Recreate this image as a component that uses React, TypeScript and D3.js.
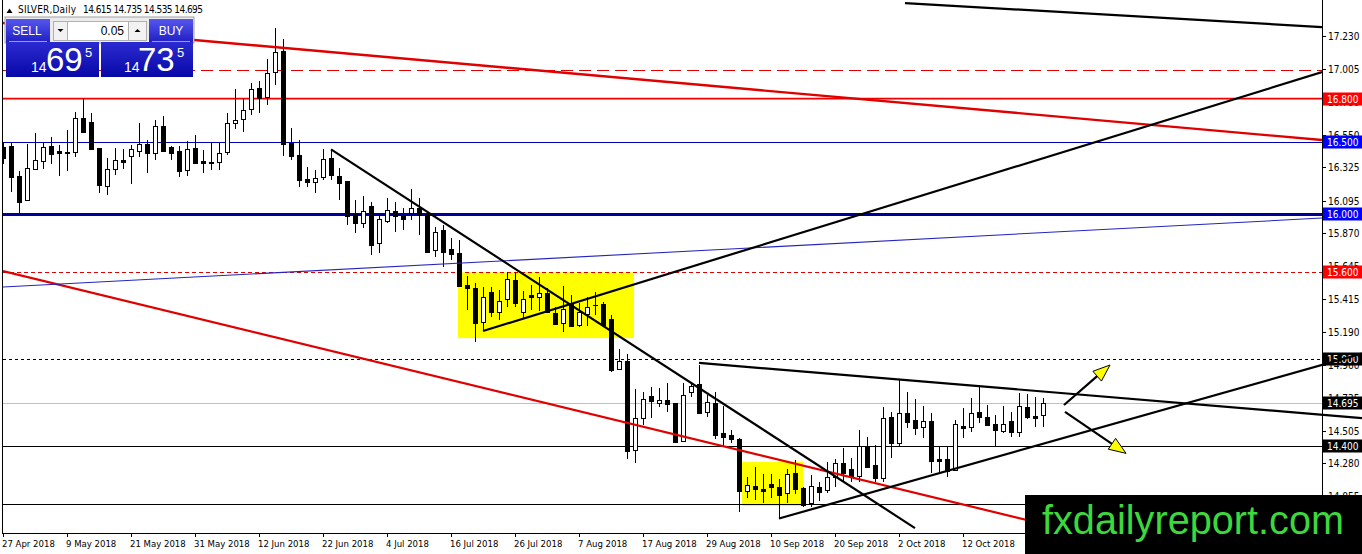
import React from 'react';
import * as d3 from 'd3';

// chart size, same as the screenshot
const W = 1362;
const H = 554;
const plotRight = 1322;
const plotBottom = 533;

// daily OHLC, bar 0 = 27 Apr 2018
const openP = [
  16.465, 16.472, 16.265, 16.1, 16.314, 16.371, 16.472, 16.437, 16.422, 16.433,
  16.664, 16.636, 16.456, 16.198, 16.314, 16.376, 16.406, 16.44, 16.485, 16.426,
  16.61, 16.463, 16.437, 16.31, 16.456, 16.367, 16.36, 16.36, 16.433, 16.629,
  16.656, 16.725, 16.871, 16.809, 16.981, 17.128, 16.495, 16.41, 16.243, 16.226,
  16.257, 16.39, 16.265, 16.231, 16.003, 15.943, 16.058, 15.8, 15.957, 16.026,
  15.989, 16.012, 16.042, 16.003, 15.754, 15.892, 15.761, 15.731, 15.512, 15.49,
  15.259, 15.462, 15.328, 15.416, 15.547, 15.328, 15.443, 15.432, 15.455, 15.317,
  15.248, 15.386, 15.236, 15.31, 15.376, 15.379, 15.278, 14.93, 14.99, 14.373,
  14.592, 14.746, 14.696, 14.718, 14.696, 14.435, 14.772, 14.829, 14.638, 14.696,
  14.488, 14.477, 14.449, 14.092, 14.124, 14.101, 14.138, 14.119, 14.074, 14.212,
  14.108, 14.009, 14.115, 14.097, 14.184, 14.28, 14.239, 14.193, 14.396, 14.27,
  14.178, 14.603, 14.424, 14.626, 14.58, 14.53, 14.573, 14.311, 14.311, 14.235,
  14.539, 14.534, 14.638, 14.603, 14.552, 14.506, 14.573, 14.5, 14.672, 14.608,
  14.615,
];
const highP = [
  16.5, 16.491, 16.3, 16.486, 16.56, 16.502, 16.537, 16.479, 16.583, 16.71,
  16.8, 16.698, 16.456, 16.387, 16.456, 16.449, 16.48, 16.629, 16.514, 16.652,
  16.68, 16.47, 16.472, 16.51, 16.55, 16.445, 16.502, 16.49, 16.698, 16.864,
  16.8, 16.91, 16.92, 17.071, 17.285, 17.215, 16.594, 16.514, 16.33, 16.307,
  16.449, 16.449, 16.318, 16.231, 16.1, 16.127, 16.088, 15.996, 16.111, 16.088,
  16.042, 16.173, 16.111, 16.019, 15.911, 15.927, 15.84, 15.823, 15.575, 15.528,
  15.5, 15.5, 15.478, 15.604, 15.604, 15.471, 15.512, 15.57, 15.49, 15.363,
  15.508, 15.443, 15.386, 15.432, 15.466, 15.397, 15.305, 15.068, 15.036, 14.792,
  14.776, 14.806, 14.799, 14.833, 14.7, 14.833, 14.845, 14.96, 14.753, 14.776,
  14.677, 14.511, 14.454, 14.189, 14.258, 14.207, 14.207, 14.171, 14.239, 14.304,
  14.12, 14.2, 14.154, 14.292, 14.308, 14.384, 14.315, 14.511, 14.466, 14.407,
  14.672, 14.638, 14.856, 14.776, 14.724, 14.677, 14.626, 14.392, 14.392, 14.58,
  14.661, 14.73, 14.806, 14.684, 14.615, 14.677, 14.638, 14.764, 14.76, 14.738,
  14.735,
];
const lowP = [
  16.35, 16.157, 16.008, 16.095, 16.307, 16.314, 16.348, 16.267, 16.302, 16.4,
  16.571, 16.445, 16.15, 16.134, 16.272, 16.314, 16.21, 16.399, 16.288, 16.376,
  16.437, 16.376, 16.26, 16.265, 16.353, 16.288, 16.307, 16.307, 16.41, 16.59,
  16.571, 16.69, 16.7, 16.756, 16.894, 16.406, 16.376, 16.191, 16.19, 16.15,
  16.24, 16.235, 16.1, 15.927, 15.87, 15.904, 15.72, 15.735, 15.94, 15.88,
  15.89, 15.96, 15.857, 15.731, 15.708, 15.639, 15.685, 15.5, 15.34, 15.121,
  15.195, 15.294, 15.271, 15.363, 15.363, 15.287, 15.34, 15.333, 15.317, 15.236,
  15.19, 15.232, 15.225, 15.232, 15.305, 15.232, 14.91, 14.93, 14.309, 14.281,
  14.546, 14.592, 14.668, 14.638, 14.42, 14.426, 14.741, 14.622, 14.599, 14.447,
  14.392, 14.423, 13.947, 14.04, 14.028, 14.005, 14.04, 13.9, 14.005, 14.069,
  13.98, 13.982, 14.023, 14.078, 14.12, 14.162, 14.154, 14.154, 14.258, 14.154,
  14.154, 14.315, 14.396, 14.523, 14.477, 14.454, 14.212, 14.212, 14.184, 14.235,
  14.454, 14.5, 14.562, 14.539, 14.392, 14.492, 14.461, 14.461, 14.585, 14.534,
  14.535,
];
const closeP = [
  16.39, 16.26, 16.088, 16.32, 16.376, 16.463, 16.417, 16.426, 16.43, 16.664,
  16.571, 16.45, 16.203, 16.314, 16.373, 16.364, 16.449, 16.486, 16.422, 16.61,
  16.44, 16.426, 16.302, 16.449, 16.357, 16.355, 16.353, 16.427, 16.629, 16.652,
  16.72, 16.864, 16.807, 16.974, 17.124, 16.487, 16.406, 16.238, 16.226, 16.249,
  16.383, 16.271, 16.219, 15.989, 15.939, 16.026, 15.789, 15.968, 16.03, 15.989,
  15.966, 16.046, 15.996, 15.742, 15.88, 15.742, 15.727, 15.505, 15.49, 15.252,
  15.432, 15.328, 15.404, 15.554, 15.386, 15.416, 15.432, 15.455, 15.328, 15.243,
  15.347, 15.232, 15.324, 15.363, 15.372, 15.236, 14.925, 14.99, 14.368, 14.592,
  14.723, 14.714, 14.718, 14.691, 14.426, 14.753, 14.817, 14.631, 14.707, 14.477,
  14.465, 14.447, 14.09, 14.131, 14.101, 14.092, 14.115, 14.062, 14.207, 14.101,
  13.993, 14.124, 14.085, 14.184, 14.28, 14.216, 14.193, 14.4, 14.258, 14.178,
  14.592, 14.424, 14.626, 14.568, 14.523, 14.572, 14.3, 14.3, 14.23, 14.552,
  14.527, 14.631, 14.599, 14.546, 14.511, 14.552, 14.495, 14.677, 14.603, 14.592,
  14.695,
];

// time axis: a label every 8 bars
const dateLabels = [
  '27 Apr 2018', '9 May 2018', '21 May 2018', '31 May 2018', '12 Jun 2018', '22 Jun 2018',
  '4 Jul 2018', '16 Jul 2018', '26 Jul 2018', '7 Aug 2018', '17 Aug 2018', '29 Aug 2018',
  '10 Sep 2018', '20 Sep 2018', '2 Oct 2018', '12 Oct 2018',
];
const priceTicks = [
  17.23, 17.005, 16.78, 16.55, 16.325, 16.095, 15.87, 15.645, 15.415, 15.19,
  14.96, 14.735, 14.505, 14.28, 14.055,
];

// horizontal levels
const dashedRedLevel = 17.0;
const redLevel = 16.8;
const blueLevel = 16.5;
const navyLevel = 16.0;
const dottedRedLevel = 15.6;
const dottedBlackLevel = 15.0;
const bidLevel = 14.695;
const blackLevels = [14.4, 14.0];

// drawn objects as [bar, price] pairs
const redUpper = [[0, 17.322], [164.875, 16.514]];
const redLower = [[0, 15.609], [164.875, 13.394]];
const blueSlope = [[0, 15.499], [164.875, 15.975]];
const downLine = [[41, 16.449], [114, 13.834]];
const upLine = [[60, 15.195], [164.875, 16.983]];
const topBlack = [[112.75, 17.46], [164.875, 17.294]];
const triTop = [[87, 14.975], [169.875, 14.594]];
const triBottom = [[97, 13.9], [169.875, 15.039]];
const arrowUp = [[132.625, 14.684], [138.375, 14.96]];
const arrowDown = [[132.75, 14.637], [140.375, 14.35]];
const boxFlag = [[56.875, 15.6], [78.875, 15.146]];
const boxBase = [[92.375, 14.29], [100, 13.986]];

const header = 'SILVER,Daily';
const headerValues = '14.615 14.735 14.535 14.695';

const axisFont = "Tahoma, 'DejaVu Sans Condensed', 'DejaVu Sans', sans-serif";
const panelFont = "'Liberation Sans', Arial, sans-serif";

const x = d3.scaleLinear().domain([0, 130]).range([3, 1043]);
const y = d3.scaleLinear().domain([13.8, 17.481]).range([plotBottom, 0]);

const seg = (pts: number[][]) => ({ x1: x(pts[0][0]), y1: y(pts[0][1]), x2: x(pts[1][0]), y2: y(pts[1][1]) });

const Arrow = ({ pts }: { pts: number[][] }) => {
  const s = seg(pts);
  const dx = s.x2 - s.x1;
  const dy = s.y2 - s.y1;
  const len = Math.hypot(dx, dy);
  const ux = dx / len, uy = dy / len;
  const bx = s.x2 - ux * 17, by = s.y2 - uy * 17;
  const nx = -uy * 6.5, ny = ux * 6.5;
  return (
    <g>
      <line x1={s.x1} y1={s.y1} x2={bx} y2={by} stroke="#000" strokeWidth={2.2} />
      <polygon
        points={`${s.x2},${s.y2} ${bx + nx},${by + ny} ${bx - nx},${by - ny}`}
        fill="#ffff00" stroke="#000" strokeWidth={1}
      />
    </g>
  );
};

const LevelLabel = ({ p, bg }: { p: number; bg: string }) => (
  <g>
    <rect x={1323} y={Math.round(y(p)) - 6.5} width={39} height={13} fill={bg} />
    <text x={1327} y={Math.round(y(p)) + 3.8} fontSize={10} fill="#fff" fontFamily={axisFont}>
      {p.toFixed(3)}
    </text>
  </g>
);

const Panel = () => (
  <g fontFamily={panelFont}>
    <rect x={5} y={17} width={189} height={26} fill="#ececec" stroke="#a0a0a0" />
    <rect x={6} y={19} width={44} height={23} fill="url(#btnBlue)" />
    <line x1={9} y1={41.5} x2={47} y2={41.5} stroke="#9a9ae8" />
    <text x={27} y={35} fontSize={12} fill="#fff" textAnchor="middle">SELL</text>
    <rect x={53.5} y={21.5} width={14} height={19} fill="#f2f2f2" stroke="#b0b0b0" />
    <polygon points="57.5,29 63.5,29 60.5,32" fill="#000" />
    <rect x={67.5} y={21.5} width={61} height={19} fill="#fff" stroke="#b0b0b0" />
    <text x={124} y={35} fontSize={12} fill="#000" textAnchor="end">0.05</text>
    <rect x={128.5} y={21.5} width={18} height={19} fill="#f2f2f2" stroke="#b0b0b0" />
    <polygon points="134.5,32 140.5,32 137.5,29" fill="#000" />
    <rect x={149} y={19} width={44} height={23} fill="url(#btnBlue)" />
    <line x1={152} y1={41.5} x2={190} y2={41.5} stroke="#9a9ae8" />
    <text x={171} y={35} fontSize={12} fill="#fff" textAnchor="middle">BUY</text>
    <rect x={6} y={42} width={93} height={35} fill="url(#boxBlue)" />
    <rect x={101} y={42} width={92} height={35} fill="url(#boxBlue)" />
    <text x={31} y={72} fontSize={14} fill="#fff">14</text>
    <text x={46} y={71} fontSize={33} fill="#fff">69</text>
    <text x={85} y={57} fontSize={13} fill="#fff">5</text>
    <text x={124} y={72} fontSize={14} fill="#fff">14</text>
    <text x={138} y={71} fontSize={33} fill="#fff">73</text>
    <text x={177} y={57} fontSize={13} fill="#fff">5</text>
  </g>
);

export default function App() {
  const levelLine = (p: number, color: string, width: number, dash?: string) => {
    const py = width > 1.5 ? Math.round(y(p)) : Math.round(y(p)) + 0.5;
    return (
      <line x1={3} x2={plotRight} y1={py} y2={py} stroke={color} strokeWidth={width}
        strokeDasharray={dash} shapeRendering="crispEdges" />
    );
  };

  return (
    <svg width={W} height={H} style={{ position: 'absolute', left: 0, top: 0, background: '#fff' }}>
      <defs>
        <clipPath id="plot"><rect x={3} y={0} width={plotRight - 3} height={plotBottom} /></clipPath>
        <clipPath id="wide"><rect x={3} y={0} width={W - 3} height={plotBottom} /></clipPath>
        <linearGradient id="btnBlue" x1="0" y1="0" x2="0" y2="1">
          <stop offset="0" stopColor="#5656ee" />
          <stop offset="1" stopColor="#2020c4" />
        </linearGradient>
        <linearGradient id="boxBlue" x1="0" y1="0" x2="0" y2="1">
          <stop offset="0" stopColor="#2a2ad0" />
          <stop offset="1" stopColor="#0808a8" />
        </linearGradient>
      </defs>
      <rect width={W} height={H} fill="#fff" />

      <g clipPath="url(#plot)">
        {/* background rectangles */}
        {[boxFlag, boxBase].map((b, k) => (
          <rect key={k} x={x(b[0][0])} y={y(b[0][1])} width={x(b[1][0]) - x(b[0][0])}
            height={y(b[1][1]) - y(b[0][1])} fill="#ffff00" />
        ))}

        {/* horizontal levels */}
        {levelLine(dashedRedLevel, '#e00000', 1, '12,6')}
        <line x1={3} x2={plotRight} y1={y(redLevel)} y2={y(redLevel)} stroke="#f00000" strokeWidth={1.6} />
        {levelLine(blueLevel, '#0000b4', 1)}
        {levelLine(navyLevel, '#000096', 3)}
        {levelLine(dottedRedLevel, '#e00000', 1, '4,3')}
        {levelLine(dottedBlackLevel, '#000', 1, '3,3')}
        {levelLine(bidLevel, '#c0c0c0', 1)}
        {blackLevels.map((p) => <g key={p}>{levelLine(p, '#000', 1)}</g>)}

        {/* candles */}
        <g shapeRendering="crispEdges">
          {openP.map((o, i) => {
            const c = closeP[i];
            const cx = Math.round(x(i));
            const top = Math.round(y(Math.max(o, c)));
            const bot = Math.round(y(Math.min(o, c)));
            const bull = c >= o;
            return (
              <g key={i}>
                <line x1={cx + 0.5} x2={cx + 0.5} y1={Math.round(y(highP[i]))} y2={Math.round(y(lowP[i]))} stroke="#000" />
                {bull ? (
                  <rect x={cx - 1.5} y={top + 0.5} width={4} height={Math.max(1, bot - top)} fill="#fff" stroke="#000" />
                ) : (
                  <rect x={cx - 2} y={top} width={5} height={Math.max(1, bot - top + 1)} fill="#000" />
                )}
              </g>
            );
          })}
        </g>

        {/* trend lines */}
        <line {...seg(redUpper)} stroke="#e00000" strokeWidth={2.4} />
        <line {...seg(redLower)} stroke="#e00000" strokeWidth={2.2} />
        <line {...seg(blueSlope)} stroke="#2424c0" strokeWidth={1.1} />
        <line {...seg(downLine)} stroke="#000" strokeWidth={2.2} />
        <line {...seg(upLine)} stroke="#000" strokeWidth={2.2} />
        <line {...seg(topBlack)} stroke="#000" strokeWidth={2.2} />
        <Arrow pts={arrowUp} />
        <Arrow pts={arrowDown} />
      </g>

      {/* frame */}
      <g shapeRendering="crispEdges">
        <line x1={2.5} x2={2.5} y1={0} y2={plotBottom} stroke="#000" />
        <line x1={2} x2={plotRight} y1={plotBottom + 0.5} y2={plotBottom + 0.5} stroke="#000" />
        <line x1={plotRight + 0.5} x2={plotRight + 0.5} y1={0} y2={H} stroke="#000" />
      </g>

      {/* price axis */}
      <g fontFamily={axisFont} fontSize={10} fill="#000">
        {priceTicks.map((p) => (
          <g key={p}>
            <line x1={plotRight} x2={plotRight + 4} y1={Math.round(y(p)) + 0.5} y2={Math.round(y(p)) + 0.5} stroke="#000" />
            <text x={1328} y={Math.round(y(p)) + 4}>{p.toFixed(3)}</text>
          </g>
        ))}
      </g>
      <LevelLabel p={redLevel} bg="#ff0000" />
      <LevelLabel p={blueLevel} bg="#0000ff" />
      <LevelLabel p={navyLevel} bg="#0000ff" />
      <LevelLabel p={dottedRedLevel} bg="#ff0000" />
      <LevelLabel p={dottedBlackLevel} bg="#000" />
      <LevelLabel p={bidLevel} bg="#000" />
      <LevelLabel p={blackLevels[0]} bg="#000" />

      {/* triangle lines run over the price scale */}
      <g clipPath="url(#wide)">
        <line {...seg(triTop)} stroke="#000" strokeWidth={2.2} />
        <line {...seg(triBottom)} stroke="#000" strokeWidth={2.2} />
      </g>

      {/* time axis */}
      <g fontFamily={axisFont} fontSize={9.5} fill="#000">
        {dateLabels.map((d, k) => (
          <g key={d}>
            <line x1={Math.round(x(k * 8)) + 0.5} x2={Math.round(x(k * 8)) + 0.5} y1={plotBottom} y2={plotBottom + 4} stroke="#000" />
            <text x={x(k * 8) - 1} y={547}>{d}</text>
          </g>
        ))}
      </g>

      {/* header */}
      <polygon points="6.5,13 12.5,13 9.5,8.5" fill="#000" />
      <text x={18} y={13} fontFamily={axisFont} fontSize={10} fill="#000" textLength={58} lengthAdjust="spacing">{header}</text>
      <text x={83} y={13} fontFamily={axisFont} fontSize={10} fill="#000" textLength={120} lengthAdjust="spacing">{headerValues}</text>

      <Panel />

      {/* watermark */}
      <rect x={1025} y={495} width={W - 1025} height={H - 495} fill="#000" />
      <text x={1042} y={534} fontFamily={panelFont} fontSize={40} fill="#3cd83c" textLength={302} lengthAdjust="spacingAndGlyphs">
        fxdailyreport.com
      </text>
    </svg>
  );
}
